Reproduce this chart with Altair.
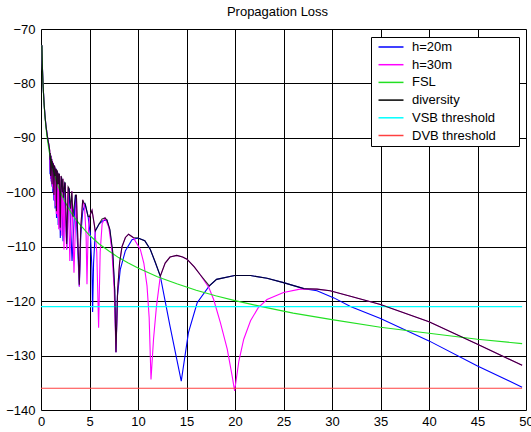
import altair as alt
import pandas as pd

# ---------------- data ----------------
series_names = ["h=20m", "h=30m", "FSL", "diversity", "VSB threshold", "DVB threshold"]
series_colors = ["#0000ff", "#ff00ff", "#22e022", "#000000", "#00ffff", "#ff4040"]

x_ticks = [0, 5, 10, 15, 20, 25, 30, 35, 40, 45, 50]
y_ticks = [-140, -130, -120, -110, -100, -90, -80, -70]

h20_x = [0.09, 0.15, 0.2, 0.3, 0.4, 0.5, 0.6, 0.7, 0.8, 0.87, 0.93, 0.96, 0.99, 1.02, 1.05,
         1.09, 1.14, 1.18, 1.22, 1.27, 1.33, 1.39, 1.45, 1.52, 1.6, 1.68, 1.77, 1.88, 1.99,
         2.12, 2.27, 2.45, 2.65, 2.9, 3.2, 3.55, 3.95, 4.1, 4.3, 4.55, 4.85, 5.1, 5.25, 5.32,
         5.42, 5.6, 6.0, 6.4, 6.8, 7.1, 7.4, 7.6, 7.73, 7.88, 8.17, 8.69, 9.38, 10.0, 10.7,
         11.27, 12.3, 13.3, 14.0, 14.46, 15.2, 16.1, 17.35, 18.1, 19.96, 21.6, 23.3, 25.0,
         27.1, 28.45, 30.2, 31.9, 35.0, 40.0, 45.0, 49.6]
h20_y = [-73.0, -77.3, -79.8, -83.2, -85.7, -87.6, -89.0, -90.2, -91.2, -92.0, -96.7, -92.8,
         -97.5, -93.3, -98.0, -93.8, -99.0, -94.3, -100.0, -94.6, -101.5, -95.1, -103.0, -95.6,
         -104.7, -96.1, -106.0, -96.6, -108.4, -97.3, -109.0, -98.2, -110.5, -99.3, -112.6,
         -100.5, -117.3, -108.0, -103.5, -102.2, -104.4, -108.0, -114.0, -122.0, -113.0, -107.1,
         -105.8, -105.2, -105.1, -107.0, -111.5, -118.0, -129.4, -119.0, -114.2, -110.8, -108.7,
         -108.4, -108.9, -110.5, -115.4, -124.6, -130.7, -134.7, -125.8, -120.3, -117.2, -116.0,
         -115.3, -115.3, -115.8, -116.6, -117.7, -118.1, -119.4, -121.0, -123.2, -127.3, -131.9,
         -135.8]

h30_x = [0.09, 0.15, 0.2, 0.3, 0.4, 0.5, 0.6, 0.7, 0.8, 0.9, 0.95, 0.97, 0.99, 1.01, 1.03,
         1.055, 1.08, 1.105, 1.13, 1.16, 1.19, 1.22, 1.25, 1.285, 1.32, 1.36, 1.40, 1.44, 1.48,
         1.53, 1.58, 1.64, 1.70, 1.76, 1.83, 1.9, 1.98, 2.07, 2.16, 2.26, 2.37, 2.5, 2.64, 2.8,
         2.97, 3.18, 3.4, 3.65, 3.95, 4.1, 4.3, 4.5, 4.65, 4.74, 4.85, 5.0, 5.26, 5.5, 5.75,
         5.94, 6.1, 6.3, 6.6, 7.0, 7.3, 7.55, 7.73, 7.9, 8.1, 8.35, 8.7, 9.03, 9.5, 10.24, 10.6,
         10.93, 11.15, 11.34, 11.6, 11.9, 12.3, 12.8, 13.3, 14.0, 14.6, 15.05, 15.8, 16.4, 17.3,
         17.8, 18.5, 19.2, 19.7, 19.96, 20.4, 20.9, 21.6, 22.4, 23.3, 25.0, 26.7, 28.45, 29.8,
         31.9, 35.0, 40.0, 45.0, 49.6]
h30_y = [-73.0, -77.3, -79.8, -83.2, -85.7, -87.6, -89.0, -90.2, -91.2, -92.3, -96.0, -92.8,
         -97.0, -93.2, -97.5, -93.5, -98.0, -93.9, -98.5, -94.2, -99.0, -94.5, -99.4, -94.7,
         -100.5, -95.0, -101.5, -95.4, -102.5, -95.7, -104.0, -96.0, -104.5, -96.4, -106.8,
         -96.7, -107.0, -97.0, -108.0, -97.5, -110.5, -98.3, -110.5, -99.0, -112.6, -99.8,
         -114.8, -100.5, -117.3, -106.5, -101.4, -103.0, -108.0, -116.9, -108.0, -104.5, -103.3,
         -106.0, -111.0, -124.9, -111.0, -105.8, -104.7, -106.5, -110.5, -118.0, -129.4, -118.0,
         -113.0, -110.0, -108.3, -107.7, -108.3, -110.5, -113.0, -117.2, -123.0, -134.4, -127.0,
         -121.0, -115.4, -113.0, -111.9, -111.6, -111.9, -112.3, -113.7, -115.1, -117.5, -119.7,
         -124.0, -128.8, -133.7, -136.5, -131.0, -127.0, -123.6, -121.2, -119.7, -118.4, -117.8,
         -117.8, -118.1, -119.1, -120.6, -123.8, -127.9, -131.8]

fsl_x = [0.09, 0.15, 0.2, 0.3, 0.4, 0.5, 0.6, 0.7, 0.8, 0.9, 1.0, 1.2, 1.4, 1.6, 1.8, 2.0,
         2.4, 2.8, 3.3, 4.0, 5.0, 6.0, 7.0, 8.0, 9.0, 10.0, 12.0, 14.0, 16.0, 18.0, 20.0, 23.0,
         26.0, 30.0, 35.0, 40.0, 45.0, 49.6]
fsl_y = [-73.0, -77.4, -79.9, -83.4, -85.9, -87.9, -89.5, -90.8, -92.0, -93.0, -93.9, -95.5,
         -96.8, -98.0, -99.0, -99.9, -101.5, -102.8, -104.3, -105.9, -107.9, -109.5, -110.8,
         -112.0, -113.0, -113.9, -115.5, -116.8, -118.0, -119.0, -119.9, -121.1, -122.2,
         -123.4, -124.8, -125.9, -127.0, -127.8]

div_x = [0.09, 0.15, 0.2, 0.3, 0.4, 0.5, 0.6, 0.7, 0.8, 0.87, 0.9, 0.93, 0.96, 0.99, 1.02,
         1.05, 1.08, 1.105, 1.14, 1.18, 1.22, 1.25, 1.285, 1.33, 1.39, 1.44, 1.48, 1.53, 1.59,
         1.64, 1.68, 1.73, 1.76, 1.83, 1.88, 1.9, 1.985, 2.07, 2.12, 2.2, 2.26, 2.32, 2.45, 2.5,
         2.645, 2.8, 2.9, 3.05, 3.18, 3.3, 3.55, 3.65, 3.95, 4.1, 4.3, 4.45, 4.57, 4.85, 5.0,
         5.26, 5.6, 6.0, 6.3, 6.6, 6.8, 7.1, 7.4, 7.6, 7.73, 7.9, 8.1, 8.35, 8.7, 9.03, 9.5,
         10.0, 10.7, 11.27, 11.8, 12.3, 12.8, 13.3, 14.0, 14.6, 15.05, 15.8, 16.4, 17.35, 18.1,
         19.96, 21.6, 23.3, 25.0, 27.1, 28.45, 29.8, 31.9, 35.0, 40.0, 45.0, 49.6]
div_y = [-73.0, -77.3, -79.8, -83.2, -85.7, -87.6, -89.0, -90.2, -91.2, -92.0, -92.3, -94.0,
         -92.8, -97.0, -93.3, -95.0, -94.5, -93.9, -98.5, -94.3, -95.5, -95.5, -94.7, -100.5,
         -95.1, -95.4, -97.0, -95.7, -103.5, -96.0, -96.1, -98.5, -96.4, -98.5, -96.6, -96.7,
         -106.5, -97.0, -97.3, -100.0, -97.5, -101.0, -98.2, -98.3, -109.5, -99.0, -99.3,
         -103.0, -99.8, -104.5, -100.5, -100.5, -117.0, -106.5, -101.4, -102.0, -102.2, -104.4,
         -104.5, -103.3, -107.1, -105.8, -104.9, -104.7, -105.1, -106.8, -111.0, -118.0, -129.4,
         -118.0, -113.0, -110.0, -108.3, -107.7, -108.3, -108.4, -108.9, -110.5, -112.9, -115.4,
         -113.0, -111.9, -111.6, -111.9, -112.3, -113.7, -115.1, -117.2, -116.0, -115.3, -115.3,
         -115.8, -116.6, -117.7, -117.8, -118.1, -119.1, -120.6, -123.8, -127.9, -131.8]

vsb_x = [0.0, 49.6]
vsb_y = [-121.0, -121.0]
dvb_x = [0.0, 49.6]
dvb_y = [-136.0, -136.0]

# ---------------- table ----------------
frames = []
for name, xs, ys in [("h=20m", h20_x, h20_y), ("h=30m", h30_x, h30_y), ("FSL", fsl_x, fsl_y),
                     ("diversity", div_x, div_y), ("VSB threshold", vsb_x, vsb_y),
                     ("DVB threshold", dvb_x, dvb_y)]:
    frames.append(pd.DataFrame({"x": xs, "y": ys, "series": name, "i": range(len(xs))}))
df = pd.concat(frames, ignore_index=True)

FONT = "Liberation Sans"
PAD_LABEL = "\u2800" * 2

color = alt.Color(
    "series:N",
    scale=alt.Scale(domain=series_names, range=series_colors),
    title=None,
    legend=alt.Legend(
        orient="none", legendX=330, legendY=8,
        symbolType="M-2,0H2", symbolSize=156, symbolStrokeWidth=1.5,
        symbolOffset=10,
        labelFont=FONT, labelFontSize=13, labelColor="black", labelOffset=14,
        strokeColor="black", fillColor="white", padding=3, rowPadding=3.7,
        labelExpr="datum.label + '" + PAD_LABEL + "'",
    ),
)

xenc = alt.X("x:Q", scale=alt.Scale(domain=[0, 50], nice=False, zero=False),
             axis=alt.Axis(values=x_ticks, title=None, grid=True, gridColor="black",
                           gridOpacity=1, gridWidth=1, ticks=False, domain=False,
                           labelFont=FONT, labelFontSize=13, labelColor="black",
                           labelPadding=5, labelFlush=False))
yenc = alt.Y("y:Q", scale=alt.Scale(domain=[-140, -70], nice=False, zero=False),
             axis=alt.Axis(values=y_ticks, title=None, grid=True, gridColor="black",
                           gridOpacity=1, gridWidth=1, ticks=False, domain=False,
                           labelFont=FONT, labelFontSize=13, labelColor="black",
                           labelPadding=6, labelFlush=False))

base = alt.Chart(df)
layers = []
for name in ["h=20m", "h=30m", "FSL", "VSB threshold", "DVB threshold", "diversity"]:
    op = 0.8 if name == "diversity" else 1.0
    layers.append(
        base.transform_filter(alt.datum.series == name)
        .mark_line(strokeWidth=1.1, strokeOpacity=op, clip=True)
        .encode(x=xenc, y=yenc, color=color, order="i:Q")
    )

chart = alt.layer(*layers).properties(
    width=485, height=381,
    title=alt.TitleParams("Propagation Loss", font=FONT, fontSize=13, fontWeight="normal",
                          color="black", offset=4, anchor="middle", dx=-6),
    autosize=alt.AutoSizeParams(type="none"),
    padding={"left": 41, "top": 29, "right": 5, "bottom": 22},
).configure_view(stroke="black", strokeWidth=2).configure(background="white")

chart.save("out.html", embed_options={"renderer": "svg", "actions": False})
